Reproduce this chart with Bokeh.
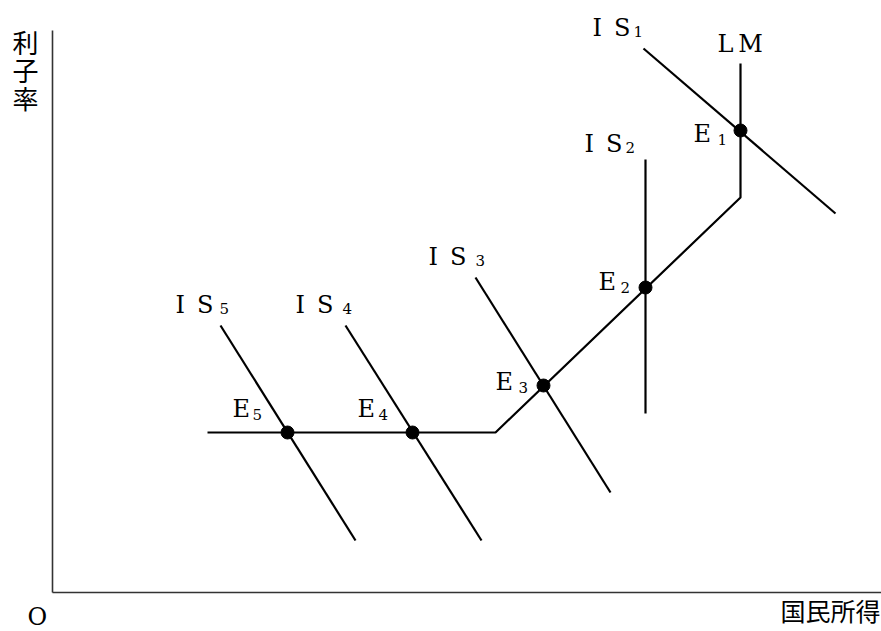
from bokeh.plotting import figure
from bokeh.models import Range1d
from bokeh.core.properties import value
from bokeh.embed import file_html
from bokeh.resources import INLINE

# ---- data (abstract units: national income X, interest rate Y) ----
lm_x = [155, 443, 688, 688]
lm_y = [160, 160, 395, 529]

is_names = ["1", "2", "3", "4", "5"]
is_x0 = [591, 593, 423, 293, 168]
is_y0 = [544, 433, 315, 267, 267]
is_x1 = [783, 593, 558, 429, 303]
is_y1 = [379, 179, 100, 52, 52]

eq_names = ["1", "2", "3", "4", "5"]
eq_x = [688, 593, 491, 360, 235]
eq_y = [462, 305, 207, 160, 160]

# axis extents (origin at 0, 0)
axis_x0 = [0, 0]
axis_y0 = [0, 0]
axis_x1 = [0, 829]
axis_y1 = [562, 0]

# label anchors
is_lab_x = [540, 532, 376, 243, 123]
is_lab_y = [565, 449, 336, 288, 288]
is_sub_x = [581, 573, 423, 290, 167]
is_sub_y = [561, 445, 332, 284, 284]
eq_lab_x = [641, 546, 443, 305, 180]
eq_lab_y = [459, 311, 211, 184, 184]
eq_sub_x = [665, 568, 466, 326, 200]
eq_sub_y = [453, 305, 205, 178, 178]

y_label_chars = ["利", "子", "率"]
y_label_y = [570, 542, 514]
x_label = "国民所得"
origin_label = "O"
lm_label = "L\u2009M"

serif = "DejaVu Serif"
cjk = "Noto Sans CJK JP"

p = figure(width=881, height=631, x_range=Range1d(-52, 829), y_range=Range1d(-39, 592),
           output_backend="svg", toolbar_location=None,
           x_axis_type=None, y_axis_type=None,
           min_border_left=0, min_border_right=0, min_border_top=0, min_border_bottom=0)
p.outline_line_color = None
p.background_fill_color = "white"
p.border_fill_color = "white"
p.grid.visible = False

# axes (drawn in data space through the figure's scales)
p.segment(x0=axis_x0, y0=axis_y0, x1=axis_x1, y1=axis_y1, line_color="#333333", line_width=1.6)

# curves
p.line(lm_x, lm_y, line_color="black", line_width=2.2)
p.segment(x0=is_x0, y0=is_y0, x1=is_x1, y1=is_y1, line_color="black", line_width=2.2)
p.scatter(eq_x, eq_y, size=13, color="black")

# labels
main_font = "24px"
sub_font = "15px"
common = dict(text_color="black", text_baseline="alphabetic", text_align="left")
p.text(x=is_lab_x, y=is_lab_y, text=["I\u2002S"] * len(is_names), text_font=value(serif),
       text_font_size=main_font, **common)
p.text(x=is_sub_x, y=is_sub_y, text=is_names, text_font=value(serif),
       text_font_size=sub_font, **common)
p.text(x=eq_lab_x, y=eq_lab_y, text=["E"] * len(eq_names), text_font=value(serif),
       text_font_size=main_font, **common)
p.text(x=eq_sub_x, y=eq_sub_y, text=eq_names, text_font=value(serif),
       text_font_size=sub_font, **common)
p.text(x=[665], y=[549], text=[lm_label], text_font=value(serif),
       text_font_size=main_font, **common)

p.text(x=[-40] * 3, y=y_label_y, text=y_label_chars, text_font=value(cjk), text_font_size="26px",
       text_baseline="top", text_align="left", text_color="black")
p.text(x=[-25], y=[-24], text=[origin_label], text_font=value(serif), text_font_size="24px",
       **common)
p.text(x=[828], y=[-17], text=[x_label], text_font=value(cjk), text_font_size="25px",
       text_baseline="alphabetic", text_align="right", text_color="black")

open("out.html", "w").write(file_html(p, INLINE))
